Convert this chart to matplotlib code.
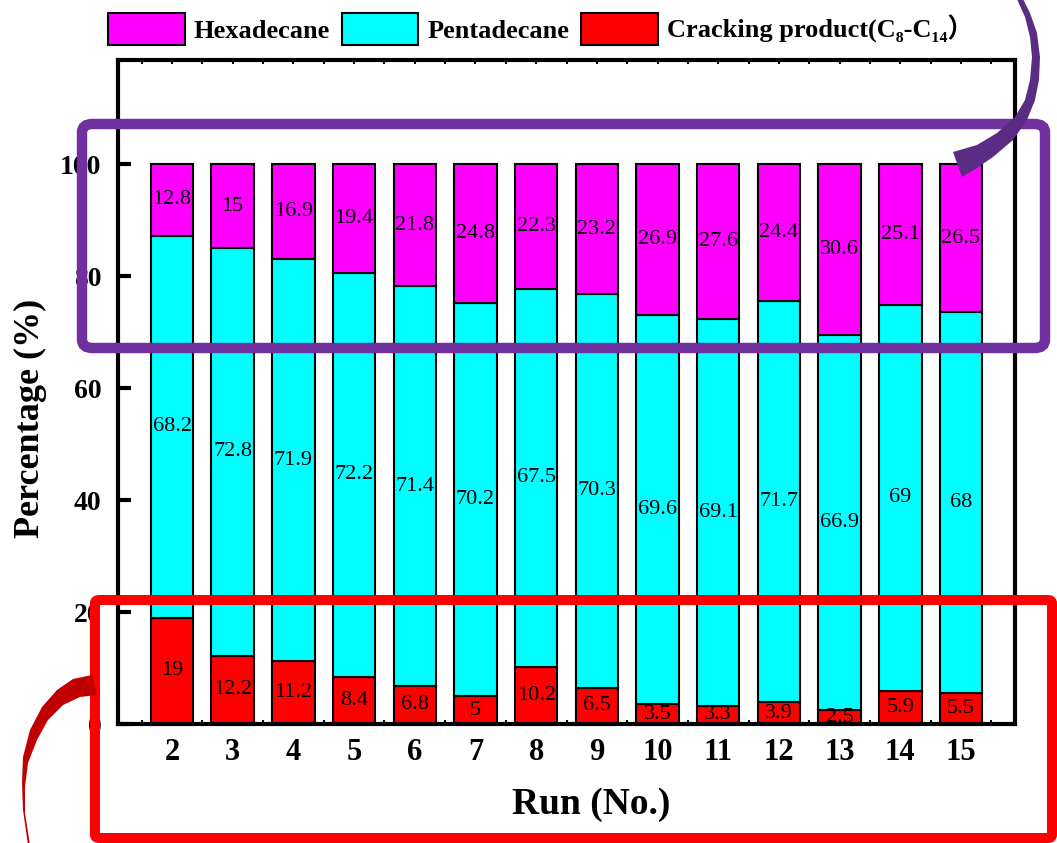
import matplotlib
matplotlib.use("Agg")
import matplotlib.pyplot as plt
from matplotlib.patches import FancyBboxPatch, Polygon, Patch
import numpy as np

runs = [2, 3, 4, 5, 6, 7, 8, 9, 10, 11, 12, 13, 14, 15]
cracking = [19, 12.2, 11.2, 8.4, 6.8, 5, 10.2, 6.5, 3.5, 3.3, 3.9, 2.5, 5.9, 5.5]
pentadecane = [68.2, 72.8, 71.9, 72.2, 71.4, 70.2, 67.5, 70.3, 69.6, 69.1, 71.7, 66.9, 69, 68]
hexadecane = [12.8, 15, 16.9, 19.4, 21.8, 24.8, 22.3, 23.2, 26.9, 27.6, 24.4, 30.6, 25.1, 26.5]
yticks = [0, 20, 40, 60, 80, 100]

SERIF = ['Liberation Serif', 'DejaVu Serif', 'Noto Sans CJK SC']
plt.rcParams['font.family'] = SERIF

W, H = 1057, 843
fig = plt.figure(figsize=(W / 100, H / 100), dpi=100)
ax = fig.add_axes([118 / W, 1 - 724 / H, (1015 - 118) / W, (724 - 60) / H])

x = np.array(runs, dtype=float)
bw = 0.7
c_arr = np.array(cracking)
p_arr = np.array(pentadecane)
h_arr = np.array(hexadecane)
ax.bar(x, c_arr, bw, color='#FF0000', edgecolor='black', linewidth=1.5, zorder=2)
ax.bar(x, p_arr, bw, bottom=c_arr, color='#00FFFF', edgecolor='black', linewidth=1.5, zorder=2)
ax.bar(x, h_arr, bw, bottom=c_arr + p_arr, color='#FF00FF', edgecolor='black', linewidth=1.5, zorder=2)

def fmt(v):
    return f"{v:g}"

for xi, c, p, h in zip(x, c_arr, p_arr, h_arr):
    ax.text(xi, c / 2, fmt(c), ha='center', va='center', fontsize=16, zorder=3)
    ax.text(xi, c + p / 2, fmt(p), ha='center', va='center', fontsize=16, zorder=3)
    ax.text(xi, c + p + h / 2, fmt(h), ha='center', va='center', fontsize=16, zorder=3)

ax.set_xlim(1.11, 15.89)
ax.set_ylim(0, 118.6)
ax.set_xticks(runs)
ax.set_xticklabels([str(r) for r in runs])
ax.set_xticks(np.arange(1.5, 16, 1.0), minor=True)
ax.set_yticks(yticks)
ax.set_yticklabels([str(t) for t in yticks])

for s in ax.spines.values():
    s.set_linewidth(3)
ax.tick_params(axis='x', which='both', direction='in', length=3, width=1.5, top=True,
               labelsize=22, pad=10)
ax.tick_params(axis='y', which='major', direction='in', length=9, width=3, labelsize=20, pad=12)
for lab in ax.get_xticklabels() + ax.get_yticklabels():
    lab.set_fontweight('bold')

ax.set_xlabel('Run (No.)', fontsize=27, fontweight='bold')
ax.xaxis.set_label_coords(0.527, -0.095)
ax.set_ylabel('Percentage (%)', fontsize=26, fontweight='bold')
ax.yaxis.set_label_coords(-0.079, 0.461)

handles = [Patch(facecolor='#FF00FF', edgecolor='black', linewidth=1.5),
           Patch(facecolor='#00FFFF', edgecolor='black', linewidth=1.5),
           Patch(facecolor='#FF0000', edgecolor='black', linewidth=1.5)]
labels = ['Hexadecane', 'Pentadecane', 'Cracking product(C\u2088-C\u2081\u2084\uff09']
fig.legend(handles, labels, loc='center', bbox_to_anchor=(541 / W, 1 - 29 / H), ncol=3,
           frameon=False, prop={'family': SERIF, 'weight': 'bold', 'size': 19},
           handlelength=2.9, handleheight=1.45, handletextpad=0.35, columnspacing=0.45)

def px(xp, yp):
    return (xp / W, 1 - yp / H)

# purple rounded box
x0, y0 = px(82, 348)
x1, y1 = px(1045, 124)
fig.patches.append(FancyBboxPatch((x0, y0), x1 - x0, y1 - y0,
                                  boxstyle='round,pad=0,rounding_size=0.01',
                                  transform=fig.transFigure, fill=False,
                                  edgecolor='#7030A0', linewidth=7.5, zorder=5))
# red box
x0, y0 = px(95, 838)
x1, y1 = px(1052, 600)
fig.patches.append(FancyBboxPatch((x0, y0), x1 - x0, y1 - y0,
                                  boxstyle='round,pad=0,rounding_size=0.004',
                                  transform=fig.transFigure, fill=False,
                                  edgecolor='#FF0000', linewidth=7.2, zorder=5))

# purple curved arrow shape
outer = [(1022, -3), (1030, 13), (1037, 33), (1040, 57), (1039, 80), (1035, 100),
         (1027, 120), (1013, 140), (993, 157), (977, 168), (962, 177)]
inner = [(1016, -3), (1025, 17), (1030, 37), (1032, 57), (1030, 80), (1025, 100),
         (1015, 117), (997, 133), (977, 145), (953, 152)]
pts = [px(*p) for p in outer] + [px(*p) for p in inner[::-1]]
fig.patches.append(Polygon(pts, closed=True, transform=fig.transFigure,
                           facecolor='#5B2C83', edgecolor='none', zorder=6))

# red curved arrow shape
outer_r = [(92, 675), (73, 679), (57, 690), (42, 707), (30, 730), (23, 757), (22, 783),
           (23, 810), (28, 845)]
inner_r = [(97, 695), (80, 697), (63, 705), (48, 720), (37, 740), (28, 763), (25, 787),
           (25, 813), (30, 845)]
pts = [px(*p) for p in outer_r] + [px(*p) for p in inner_r[::-1]]
fig.patches.append(Polygon(pts, closed=True, transform=fig.transFigure,
                           facecolor='#C00000', edgecolor='none', zorder=6))

fig.savefig('out.png', dpi=100)
